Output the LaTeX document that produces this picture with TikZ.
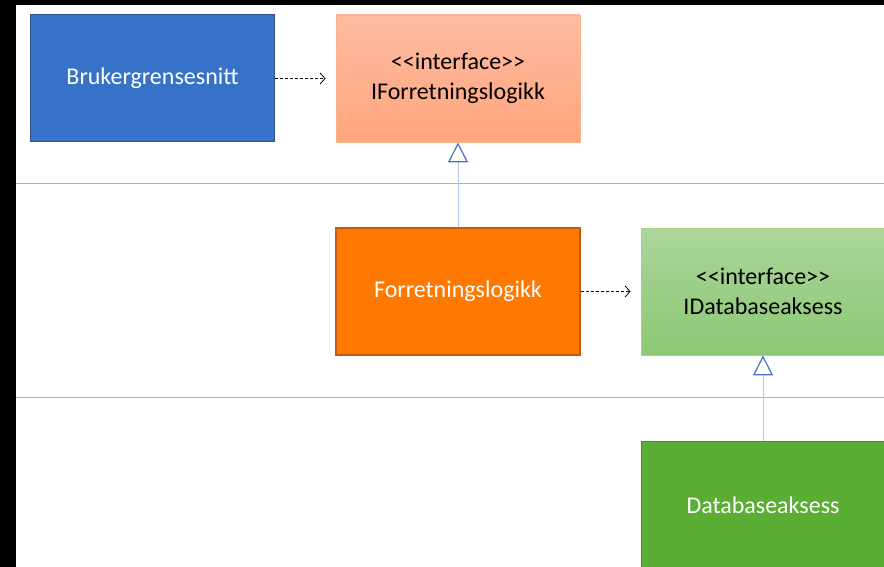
\documentclass[tikz,border=0pt]{standalone}
\usepackage{fontspec}
\setmainfont{Carlito}
\usetikzlibrary{arrows.meta}

\definecolor{guiblue}{HTML}{3572C8}
\definecolor{guiborder}{HTML}{2F528F}
\definecolor{ifacetop}{HTML}{FFBBA0}
\definecolor{ifacebot}{HTML}{FFA57E}
\definecolor{ifaceline}{HTML}{F8B48A}
\definecolor{logicorange}{HTML}{FF7900}
\definecolor{logicborder}{HTML}{C55A11}
\definecolor{dbtop}{HTML}{ACD59B}
\definecolor{dbbot}{HTML}{8CC874}
\definecolor{dbiline}{HTML}{A9D18E}
\definecolor{dbgreen}{HTML}{5AAE33}
\definecolor{dbborder}{HTML}{4E8A2E}
\definecolor{layerline}{HTML}{9AB3DE}
\definecolor{realizeline}{HTML}{B4C7E7}
\definecolor{realizehead}{HTML}{4472C4}

\newcommand{\iface}{<\kern0pt<interface>\kern0pt>}

\tikzset{
  classbox/.style={draw, minimum width=244pt, minimum height=127pt, inner sep=0pt,
    align=center, font=\fontsize{24}{30}\selectfont},
  uses/.style={dashed, dash pattern=on 3pt off 2pt, line width=0.8pt,
    -{Straight Barb[length=5pt,width=11pt]}, shorten >=10pt},
  realizes/.style={realizeline, line width=1pt,
    -{Triangle[open,length=20pt,width=20pt,color=realizehead,fill=white,line width=1.2pt]}}
}

\begin{document}
\begin{tikzpicture}[x=1pt,y=-1pt]
  \useasboundingbox (0,0) rectangle (884,567);
  \clip (0,0) rectangle (884,567);
  \fill[black] (0,0) rectangle (884,567);
  \fill[white] (16,5) rectangle (884,567);

  % layer separators
  \draw[layerline, line width=0.8pt] (16,183) -- (884,183);
  \draw[layerline, line width=0.8pt] (16,397) -- (884,397);

  \node[classbox, fill=guiblue, draw=guiborder, line width=1pt, text=white] (gui) at (152.5,78.5) {Brukergrensesnitt};
  \node[classbox, top color=ifacetop, bottom color=ifacebot, draw=ifaceline, line width=0.8pt] (ilogic) at (458,78.5) {\iface\\IForretningslogikk};
  \node[classbox, fill=logicorange, draw=logicborder, line width=1.2pt, text=white] (logic) at (458,291.5) {Forretningslogikk};
  \node[classbox, top color=dbtop, bottom color=dbbot, draw=dbiline, line width=0.8pt] (idb) at (763,291.5) {\iface\\IDatabaseaksess};
  \node[classbox, fill=dbgreen, draw=dbborder, line width=1pt, text=white] (db) at (763,505) {Databaseaksess};

  \draw[uses] (gui) -- (ilogic);
  \draw[uses] (logic) -- (idb);
  \draw[realizes] (logic) -- (ilogic);
  \draw[realizes] (db) -- (idb);
\end{tikzpicture}
\end{document}
